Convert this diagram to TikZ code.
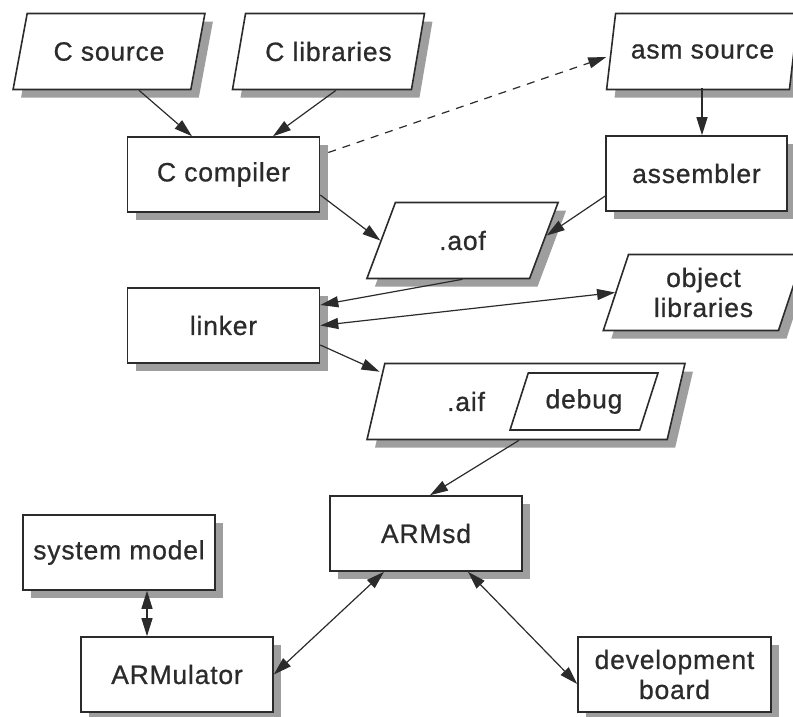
\documentclass[tikz,border=0pt]{standalone}
\usepackage{fontspec}
\setmainfont{Liberation Sans}[LetterSpace=3, FakeBold=0.7]
\usetikzlibrary{shapes.geometric,shadows,arrows.meta,calc}
\definecolor{ink}{HTML}{2B2B2B}
\definecolor{shade}{HTML}{9E9E9E}
\begin{document}
\begin{tikzpicture}[x=1pt,y=-1pt,
  every node/.style={font=\fontsize{26.5}{30}\selectfont, text=ink},
  shadowed/.style={drop shadow={shadow xshift=8pt, shadow yshift=-8pt, fill=shade, opacity=1}},
  box/.style={draw=ink, line width=1.6pt, fill=white, inner sep=0pt,
    minimum width=192pt, minimum height=75pt, align=center, shadowed},
  para/.style={draw=ink, line width=1.6pt, fill=white, inner sep=0pt,
    shape=trapezium, trapezium left angle=63, trapezium right angle=117,
    trapezium stretches=true, minimum height=76pt, minimum width=#1, align=center},
  tip/.tip={Triangle[length=18pt,width=11pt]},
  conn/.style={draw=ink, line width=1.2pt, -tip},
  bconn/.style={draw=ink, line width=1.2pt, tip-tip}
]
\useasboundingbox (0,0) rectangle (793,716);
\clip (0,0) rectangle (793,716);
% parallelograms
\node[para=192pt, shadowed] (csrc) at (109,51.5) {C source};
\node[para=192pt, shadowed] (clib) at (328.5,51.5) {C libraries};
\node[para=192pt, shadowed] (asmsrc) at (702.5,51.5) {asm source};
\node[para=192pt, shadowed] (aof) at (462.5,240.5) {.aof};
\node[para=192pt, shadowed, text width=150pt] (objlib) at (703.5,292.5) {object\\libraries};
\node[para=318pt, shadowed] (aif) at (526,401.5) {.aif\hspace*{120pt}};
\node[para=148pt, minimum height=57pt] (debug) at (584,401.5) {debug};
% rectangles
\node[box] (ccomp) at (223.5,174.5) {C compiler};
\node[box, minimum width=181pt] (asm) at (696.5,173.5) {assembler};
\node[box] (linker) at (223.5,325.5) {linker};
\node[box] (armsd) at (426,533.5) {ARMsd};
\node[box] (sysmod) at (119,552.5) {system model};
\node[box] (armul) at (177,674.5) {ARMulator};
\node[box, minimum width=193pt] (devb) at (674.5,674.5) {development\\board};
% connectors
\draw[conn] ($(csrc.south)+(30,0)$) -- ($(ccomp.north)+(-31.5,0)$);
\draw[conn] ($(clib.south)+(7.5,0)$) -- ($(ccomp.north)+(49.5,0)$);
\draw[conn, dash pattern=on 8pt off 7pt] ($(ccomp.east)+(8,-22)$) -- ($(asmsrc.west)+(-4,5.5)$);
\draw[conn] ($(asm.north)+(5.5,-47)$) -- ($(asm.north)+(5.5,0)$);
\draw[conn] ($(ccomp.east)+(0,20.5)$) -- (aof.west);
\draw[conn] ($(asm.west)+(0,22.5)$) -- ($(aof.east)+(2,-5)$);
\draw[conn] (aof.south) -- ($(linker.east)+(0,-20.5)$);
\draw[bconn] (linker.east) -- (objlib.west);
\draw[conn] ($(linker.east)+(0,19.5)$) -- ($(aif.top left corner)+(-4.6,9)$);
\draw[conn] ($(aif.south)+(-7,0)$) -- ($(armsd.north)+(4,0)$);
\draw[bconn] ($(sysmod.south)+(28,0)$) -- ($(armul.north)+(-30,0)$);
\draw[bconn] ($(armsd.south)+(-42,0)$) -- (armul.east);
\draw[bconn] ($(armsd.south)+(42,0)$) -- ($(devb.west)+(0,9.5)$);
\end{tikzpicture}
\end{document}
